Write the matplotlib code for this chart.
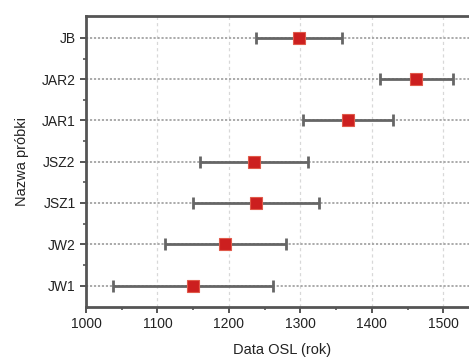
import matplotlib
matplotlib.use("Agg")
import matplotlib.pyplot as plt
from matplotlib.ticker import MultipleLocator

samples = ["JB", "JAR2", "JAR1", "JSZ2", "JSZ1", "JW2", "JW1"]
dates = [1298, 1462, 1366, 1235, 1238, 1195, 1150]
errors = [60, 51, 63, 76, 88, 85, 112]
xticks = [1000, 1100, 1200, 1300, 1400, 1500]

plt.rcParams['font.family'] = ['Liberation Sans', 'DejaVu Sans']

fig = plt.figure(figsize=(4.69, 3.58), dpi=100)
ax = fig.add_axes([0.1834, 0.1425, 0.838, 0.8126])

ypos = list(range(len(samples), 0, -1))

for y in ypos:
    ax.axhline(y, color='#a4a4a4', lw=1.3, ls=(0, (1.2, 1.0)), zorder=1)
for xt in xticks[1:]:
    ax.axvline(xt, color='#d8d8d8', lw=0.9, ls=(0, (2.5, 2.5)), zorder=0)

ax.errorbar(dates, ypos, xerr=errors, fmt='none', ecolor='#666666',
            elinewidth=2.0, capsize=4, capthick=2.0, zorder=3)
ax.plot(dates, ypos, 's', color='#cc1f1f', markersize=8.3,
        markeredgecolor='#e05a4a', markeredgewidth=0.8, zorder=4)

ax.set_xlim(1000, 1550)
ax.set_ylim(0.48, 7.53)
ax.set_xticks(xticks)
ax.xaxis.set_minor_locator(MultipleLocator(50))
ax.set_yticks(ypos)
ax.set_yticklabels(samples)
ax.set_yticks([y + 0.5 for y in ypos[1:]], minor=True)

for s in ax.spines.values():
    s.set_linewidth(2.0)
    s.set_color('#555555')

ax.tick_params(axis='both', which='major', direction='out', length=4.5,
               width=1.4, color='#555555', labelsize=10, labelcolor='#222222', pad=3)
ax.tick_params(axis='both', which='minor', direction='out', length=2.5,
               width=1.2, color='#555555')

ax.set_xlabel("Data OSL (rok)", fontsize=10.5, color='#222222', labelpad=8)
ax.set_ylabel("Nazwa próbki", fontsize=10.5, color='#222222', labelpad=9)

fig.savefig("out.png", dpi=100)
